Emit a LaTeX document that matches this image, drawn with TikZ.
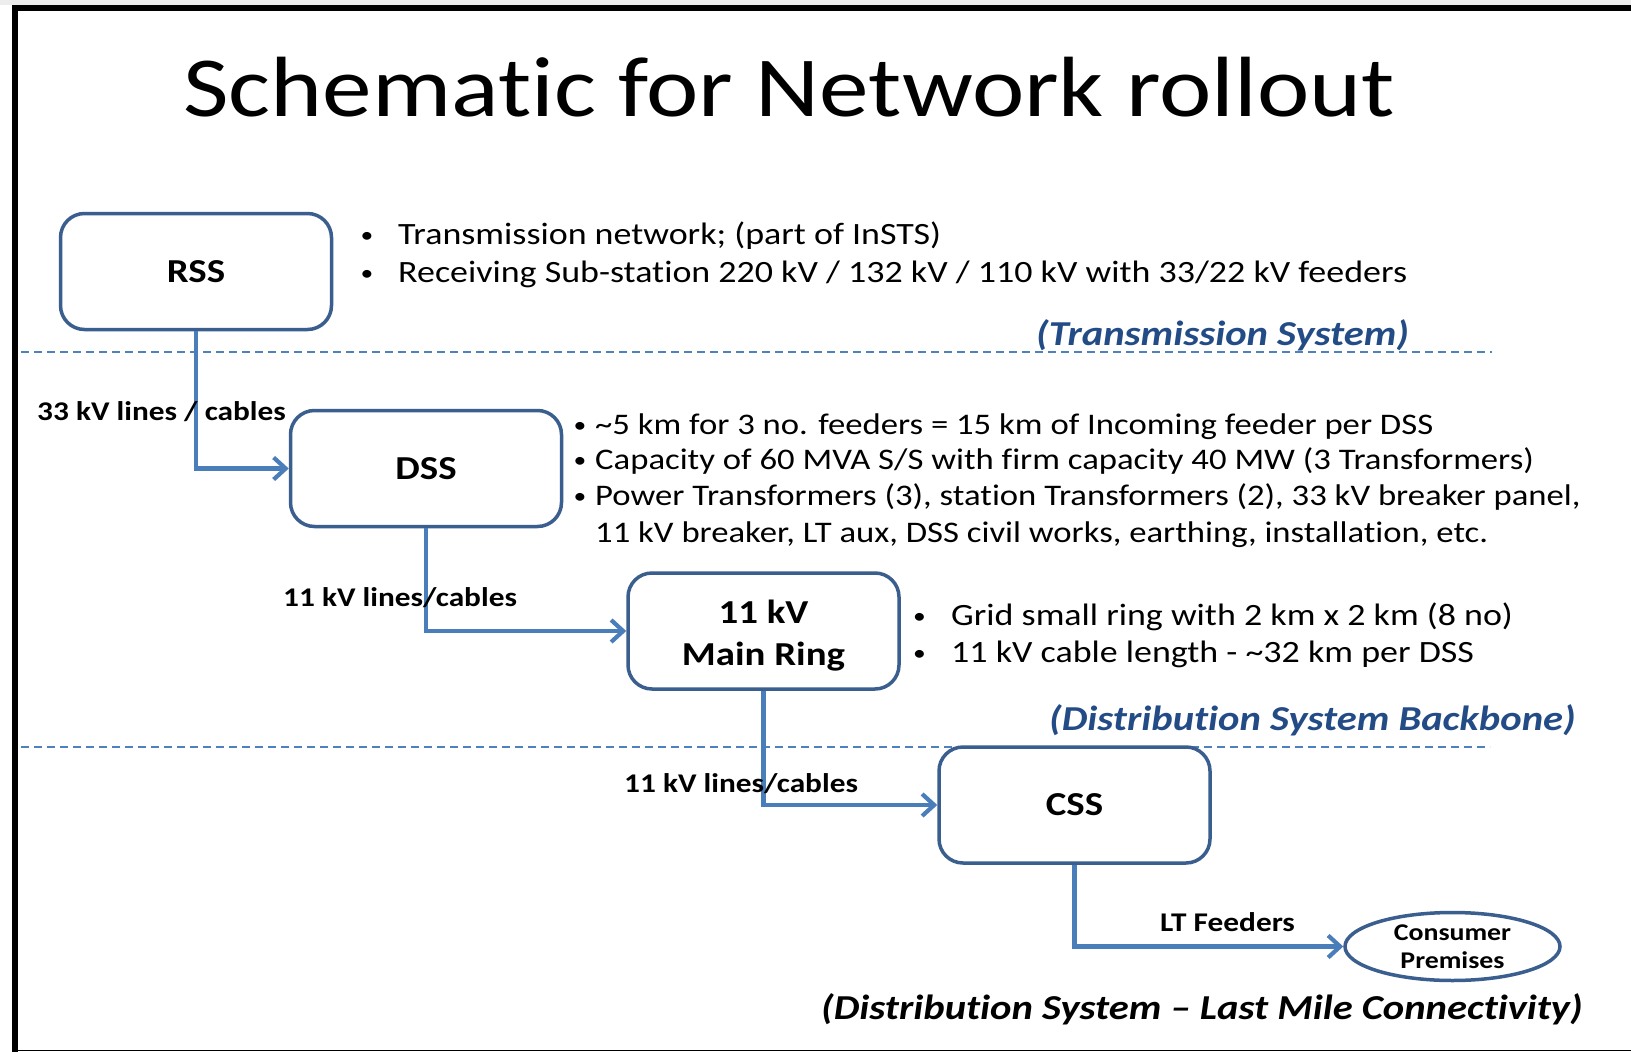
\documentclass[tikz,border=0pt]{standalone}
\usepackage{fontspec}
\setmainfont{Carlito}[FakeStretch=1.16, Ligatures=NoCommon]
\usetikzlibrary{arrows.meta,shapes.geometric}

\definecolor{boxblue}{HTML}{3A5F8F}
\definecolor{linkblue}{HTML}{4A7EBB}
\definecolor{dashblue}{HTML}{4F81BD}
\definecolor{tagblue}{HTML}{234C87}

\tikzset{
  unitbox/.style={draw=boxblue, line width=3.5pt, rounded corners=24pt, fill=white,
    minimum width=271pt, minimum height=116pt, inner sep=0pt, align=center,
    font=\fontsize{33.5}{41.6}\selectfont\bfseries},
  boxtext/.style={inner sep=0pt, align=center, font=\fontsize{33.5}{41.6}\selectfont\bfseries},
  endpoint/.style={ellipse, draw=boxblue, line width=3.5pt, fill=white,
    minimum width=215pt, minimum height=68pt, inner sep=0pt, align=center,
    font=\fontsize{24}{28}\selectfont\bfseries},
  link/.style={draw=linkblue, line width=4.2pt, line join=miter,
    -{Straight Barb[length=12pt,width=22pt]}},
  divider/.style={draw=dashblue, line width=2pt, dash pattern=on 8pt off 5pt},
  txt/.style={inner sep=0pt, anchor=base west},
  dot/.style={inner sep=0pt, anchor=base, font=\fontsize{22}{26}\selectfont},
  rsstxt/.style={txt, font=\fontsize{31}{37}\selectfont},
  dsstxt/.style={txt, font=\fontsize{29.9}{36}\selectfont},
  ringtxt/.style={txt, font=\fontsize{31}{37}\selectfont},
  linklabel/.style={txt, font=\fontsize{27}{32}\selectfont\bfseries},
  tag/.style={txt, font=\fontsize{35}{40}\selectfont\bfseries\itshape, text=tagblue},
  lasttag/.style={txt, font=\fontsize{35}{40}\selectfont\bfseries\itshape},
}

\begin{document}
\begin{tikzpicture}[x=1pt, y=-1pt]
  \useasboundingbox (0,0) rectangle (1631,1052);
  \fill[white] (0,0) rectangle (1631,1052);
  \fill[black!7] (0,0) rectangle (1631,4.7);

  % slide frame
  \draw[line width=6pt, line join=miter] (14.6,1052) -- (14.6,7.7) -- (1631,7.7);
  \draw[line width=1.4pt] (14.6,1050.6) -- (1631,1050.6);

  % title
  \node[inner sep=0pt, anchor=base, font=\fontsize{85.5}{100}\selectfont]
    (title) at (789,116.7) {Schematic for Network rollout};

  % section dividers
  \coordinate (d1a) at (21,352.3);  \coordinate (d1b) at (1492,352.3);
  \coordinate (d2a) at (21,746.5);  \coordinate (d2b) at (1490,746.5);
  \draw[divider] (d1a) -- (d1b);
  \draw[divider] (d2a) -- (d2b);

  % network elements
  \node[unitbox] (rss)  at (196,271.5)   {RSS};
  \node[unitbox] (dss)  at (426,468.5)   {DSS};
  \node[unitbox] (ring) at (763.5,631)   {};
  \node[boxtext] (ringtext) at ([yshift=-4.5pt]ring.center) {11 kV\\Main Ring};
  \node[unitbox] (css)  at (1074.5,805)  {CSS};
  \node[endpoint] (cons) at (1452.5,946.5) {Consumer\\Premises};

  % connections
  \draw[link] (rss.south)  |- (dss.west);
  \draw[link] (dss.south)  |- (ring.west);
  \draw[link] (ring.south) |- (css.west);
  \draw[link] (css.south)  |- (cons.west);

  % connection labels
  \node[linklabel] (l1) at (37,420)    {33 kV lines / cables};
  \node[linklabel] (l2) at (283,606)   {11 kV lines/cables};
  \node[linklabel] (l3) at (624,792.6) {11 kV lines/cables};
  \node[linklabel] (l4) at (1160,931)  {LT Feeders};

  % RSS notes
  \node[dot] (rb1) at (367,242.5) {•};
  \node[dot] (rb2) at (367,280)   {•};
  \node[rsstxt] (rt1) at (398,244.5) {Transmission network; (part of InSTS)};
  \node[rsstxt] (rt2) at (398,282)   {Receiving Sub-station 220 kV / 132 kV / 110 kV with 33/22 kV feeders};

  % DSS notes
  \node[dot] (db1) at (580,432)   {•};
  \node[dot] (db2) at (580,467)   {•};
  \node[dot] (db3) at (580,503.5) {•};
  \node[dsstxt] (dt1) at (595,434)   {\char`\~5 km for 3 no. feeders = 15 km of Incoming feeder per DSS};
  \node[dsstxt] (dt2) at (595,469)   {Capacity of 60 MVA S/S with firm capacity 40 MW (3 Transformers)};
  \node[dsstxt] (dt3) at (595,505.5) {Power Transformers (3), station Transformers (2), 33 kV breaker panel,};
  \node[dsstxt] (dt4) at (595,542)   {11 kV breaker, LT aux, DSS civil works, earthing, installation, etc.};

  % main ring notes
  \node[dot] (gb1) at (919.5,623)   {•};
  \node[dot] (gb2) at (919.5,660.6) {•};
  \node[ringtxt] (gt1) at (951,625)   {Grid small ring with 2 km x 2 km (8 no)};
  \node[ringtxt] (gt2) at (951,662.6) {11 kV cable length - \char`\~32 km per DSS};

  % system tags
  \node[tag] (t1) at (1036,345.7) {(Transmission System)};
  \node[tag] (t2) at (1049,730)   {(Distribution System Backbone)};
  \node[lasttag] (t3) at (821,1019.3) {(Distribution System – Last Mile Connectivity)};
\end{tikzpicture}
\end{document}
